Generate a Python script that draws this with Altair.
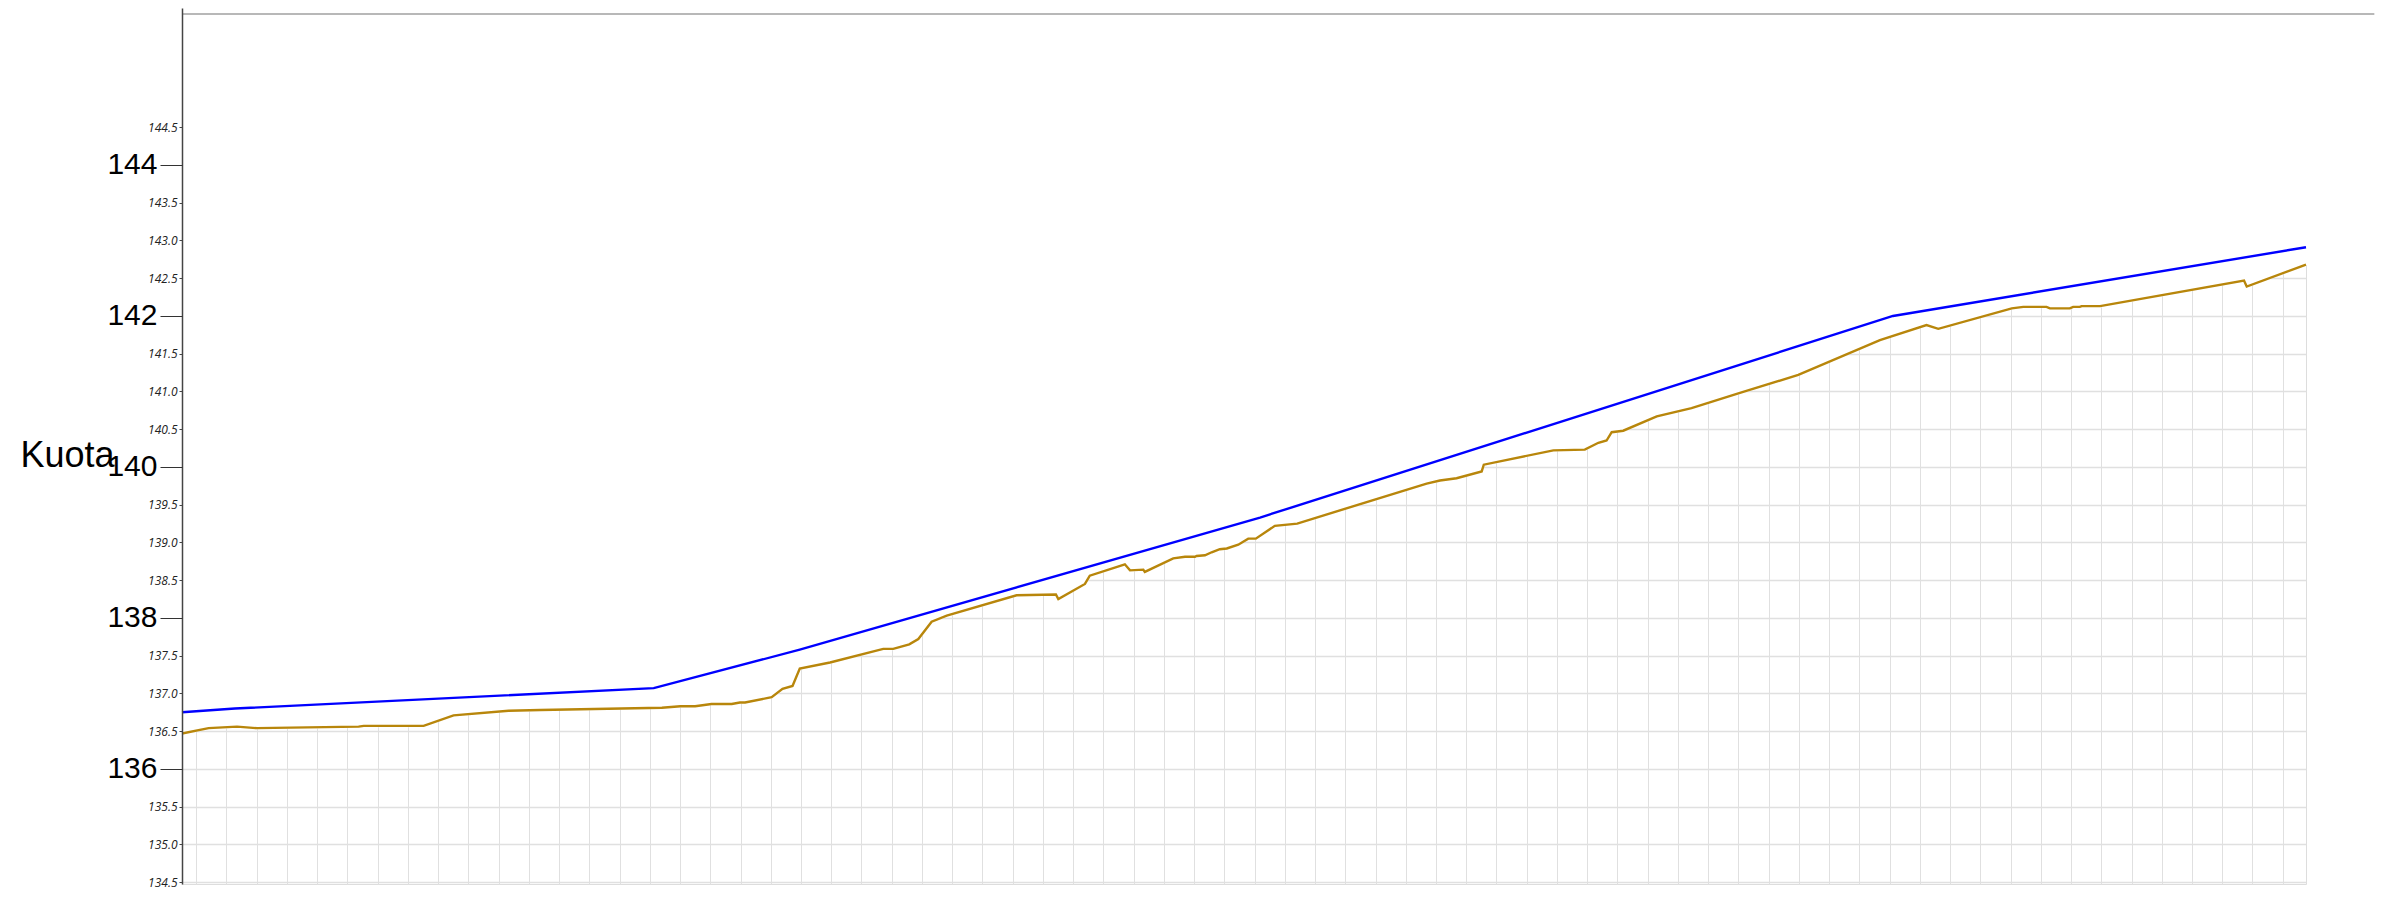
import altair as alt
import pandas as pd

# ---- data (chainage in metres, elevation "kuota" in metres) ----
blue_x = [5.3, 22.8, 161.3, 209.6, 361.8, 571.1, 707.7]
blue_y = [136.75, 136.80, 137.07, 137.58, 139.33, 142.00, 142.91]

gold_x = [5.3, 14.1, 23.5, 30.1, 63.7, 65.4, 85.2, 95.1, 113.3, 123.8,
          164.0, 170.1, 175.0, 180.4, 187.1, 189.8, 191.5, 200.3, 203.9, 207.2,
          209.6, 219.6, 237.2, 240.5, 245.8, 248.8, 253.2, 258.2, 281.3, 294.3,
          295.1, 303.9, 305.5, 317.1, 318.8, 323.2, 323.7, 333.1, 337.0, 340.3,
          340.8, 343.6, 345.8, 348.5, 350.8, 354.6, 357.9, 360.4, 366.7, 374.1,
          416.9, 421.3, 426.8, 435.1, 435.8, 458.8, 469.2, 473.7, 476.4, 478.1,
          481.9, 493.0, 504.5, 520.5, 539.8, 566.8, 582.2, 586.1, 610.4, 614.2,
          621.9, 623.0, 629.6, 630.7, 632.9, 633.5, 639.6, 687.2, 688.1, 707.7]
gold_y = [136.47, 136.54, 136.56, 136.54, 136.56, 136.57, 136.57, 136.71, 136.77, 136.78,
          136.81, 136.83, 136.83, 136.86, 136.86, 136.88, 136.88, 136.95, 137.06, 137.10,
          137.33, 137.41, 137.59, 137.59, 137.65, 137.72, 137.95, 138.03, 138.30, 138.31,
          138.25, 138.45, 138.56, 138.71, 138.63, 138.64, 138.61, 138.79, 138.81, 138.81,
          138.82, 138.83, 138.87, 138.91, 138.92, 138.97, 139.05, 139.05, 139.22, 139.25,
          139.78, 139.82, 139.85, 139.94, 140.03, 140.22, 140.23, 140.32, 140.35, 140.46,
          140.48, 140.67, 140.78, 140.98, 141.22, 141.68, 141.88, 141.83, 142.10, 142.12,
          142.12, 142.10, 142.10, 142.12, 142.12, 142.13, 142.13, 142.47, 142.39, 142.68]

top_line = [146.0]

major_ticks = [136, 138, 140, 142, 144]
minor_ticks = [134.5, 135.0, 135.5, 136.5, 137.0, 137.5, 138.5, 139.0, 139.5,
               140.5, 141.0, 141.5, 142.5, 143.0, 143.5, 144.5]
grid_y_values = [134.5, 135.0, 135.5, 136.0, 136.5, 137.0, 137.5, 138.0, 138.5,
                 139.0, 139.5, 140.0, 140.5, 141.0, 141.5, 142.0, 142.5, 143.0,
                 143.5, 144.0, 144.5, 145.0, 145.5, 146.0]
grid_x_values = [10, 20, 30, 40, 50, 60, 70, 80, 90, 100, 110, 120, 130, 140, 150,
                 160, 170, 180, 190, 200, 210, 220, 230, 240, 250, 260, 270, 280,
                 290, 300, 310, 320, 330, 340, 350, 360, 370, 380, 390, 400, 410,
                 420, 430, 440, 450, 460, 470, 480, 490, 500, 510, 520, 530, 540,
                 550, 560, 570, 580, 590, 600, 610, 620, 630, 640, 650, 660, 670,
                 680, 690, 700]

X_MIN, X_MAX = 5.3, 707.7
Y_MIN, Y_MAX = 134.476, 146.079
RULE_END = 730.3

df_gold = pd.DataFrame({"paalu": gold_x, "kuota": gold_y})
df_blue = pd.DataFrame({"paalu": blue_x, "kuota": blue_y})
df_top = pd.DataFrame({"kuota": top_line})

x_scale = alt.Scale(domain=[X_MIN, X_MAX], nice=False, zero=False)
y_scale = alt.Scale(domain=[Y_MIN, Y_MAX], nice=False, zero=False)

grid_x_axis = alt.Axis(grid=True, values=grid_x_values, labels=False, ticks=False,
                       domain=False, title=None, gridColor="#e0e0e0", gridWidth=1,
                       zindex=0)
grid_y_axis = alt.Axis(grid=True, values=grid_y_values, labels=False, ticks=False,
                       domain=False, title=None, gridColor="#e0e0e0", gridWidth=1.6,
                       zindex=0, orient="left")

minor_axis = alt.Axis(orient="left", values=minor_ticks, format=".1f", grid=False,
                      title=None, domain=True, domainColor="#444444", domainWidth=1.5,
                      ticks=True, tickSize=3, tickWidth=1, tickColor="#444444",
                      labelPadding=2, labelFont="Open Sans", labelFontSize=12,
                      labelFontStyle="italic", labelColor="#222222",
                      labelFlush=False, labelOverlap=False, labelBound=False,
                      zindex=1, offset=0)
major_axis = alt.Axis(orient="left", values=major_ticks, format="d", grid=False,
                      domain=False, ticks=True, tickSize=22, tickWidth=1,
                      tickColor="#333333", labelPadding=3,
                      labelFont="Liberation Sans", labelFontSize=30,
                      labelColor="#000000", labelFlush=False, labelOverlap=False,
                      labelBound=False, zindex=1, offset=0,
                      title="Kuota", titleFont="Liberation Sans", titleFontSize=36,
                      titleFontWeight="normal", titleColor="#000000", titleAngle=0,
                      titleAlign="left", titleBaseline="alphabetic",
                      titleX=-162, titleY=458)

cover = alt.Chart(df_gold).mark_area(
    fill="white", stroke="white", strokeWidth=2.5, opacity=1
).encode(
    x=alt.X("paalu:Q", scale=x_scale, axis=grid_x_axis),
    y=alt.Y("kuota:Q", scale=y_scale, axis=grid_y_axis),
    y2=alt.datum(Y_MAX),
)

gold = alt.Chart(df_gold).mark_line(color="#b8860b", strokeWidth=2.4).encode(
    x=alt.X("paalu:Q", scale=x_scale, axis=None),
    y=alt.Y("kuota:Q", scale=y_scale, axis=minor_axis),
)

blue = alt.Chart(df_blue).mark_line(color="#0000ff", strokeWidth=2.4).encode(
    x=alt.X("paalu:Q", scale=x_scale, axis=None),
    y=alt.Y("kuota:Q", scale=y_scale, axis=major_axis),
)

top = alt.Chart(df_top).mark_rule(color="#a0a0a0", strokeWidth=1.6, clip=False).encode(
    x=alt.XDatum(X_MIN, type="quantitative", scale=x_scale, axis=None),
    x2=alt.X2Datum(RULE_END),
    y=alt.Y("kuota:Q", scale=y_scale, axis=None),
)

chart = (
    alt.layer(cover, gold, blue, top)
    .resolve_axis(x="independent", y="independent")
    .properties(width=2124, height=876, autosize="none",
                padding={"left": 174, "top": 0, "right": 69, "bottom": 7})
    .configure_view(stroke="transparent", strokeWidth=0)
    .configure(background="white")
)

chart.save("out.html", embed_options={"renderer": "svg", "actions": False})
